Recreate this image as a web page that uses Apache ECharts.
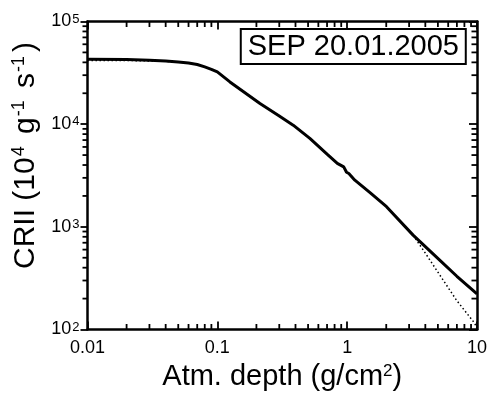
<!DOCTYPE html>
<html>
<head>
<meta charset="utf-8">
<script src="https://cdn.jsdelivr.net/npm/echarts@6/dist/echarts.min.js"></script>
<style>html,body{margin:0;padding:0;background:#fff;}#c{width:490px;height:397px;}</style>
</head>
<body>
<div id="c"></div>
<script>
// Data
const depthSolid = [0.01, 0.02, 0.03, 0.04, 0.05, 0.06, 0.07, 0.08, 0.09, 0.1, 0.125, 0.213, 0.3, 0.384, 0.516, 0.7, 0.84, 0.941, 0.989, 1.03, 1.146, 1.5, 2.01, 3.22, 5.16, 7.0, 10];
const criiSolid  = [43000, 42700, 42000, 41300, 40400, 39400, 38100, 36100, 34200, 32300, 25800, 15900, 12000, 9780, 7260, 5100, 4150, 3840, 3400, 3310, 2850, 2150, 1570, 830, 474, 330, 222];
const depthDotted = [0.01, 0.02, 0.03, 0.04, 0.05, 0.06, 0.07, 0.08, 0.09, 0.1, 0.125, 0.213, 0.3, 0.384, 0.516, 0.7, 0.84, 0.941, 0.989, 1.03, 1.146, 1.5, 2.01, 3.22, 4.0, 4.88, 6.95, 9.6, 10];
const criiDotted  = [41800, 41700, 41300, 40900, 40200, 39400, 38100, 36100, 34200, 32300, 25800, 15900, 12000, 9780, 7260, 5100, 4150, 3840, 3400, 3310, 2850, 2150, 1570, 830, 555, 379, 193, 115, 102];
const xMinorTicks = [0.02,0.03,0.04,0.05,0.06,0.07,0.08,0.09,0.2,0.3,0.4,0.5,0.6,0.7,0.8,0.9,2,3,4,5,6,7,8,9];
const yMinorTicks = [200,300,400,500,600,700,800,900,2000,3000,4000,5000,6000,7000,8000,9000,20000,30000,40000,50000,60000,70000,80000,90000];
const xRange = [0.01, 10];
const yRange = [100, 100000];
const legendText = 'SEP 20.01.2005';

const FONT = '"Liberation Sans", Arial, Helvetica, sans-serif';
const chart = echarts.init(document.getElementById('c'), null, {renderer: 'canvas'});

// minor ticks drawn through the axes' own log scales
function minorTickSeries(vals, axisSide, len) {
  const data = vals.map(v => {
    if (axisSide === 'bottom') return [v, yRange[0]];
    if (axisSide === 'top') return [v, yRange[1]];
    if (axisSide === 'left') return [xRange[0], v];
    return [xRange[1], v];
  });
  return {
    type: 'custom', coordinateSystem: 'cartesian2d', xAxisIndex: 0, yAxisIndex: 0, silent: true, clip: false,
    data: data, z: 10,
    renderItem: function (params, api) {
      const p = api.coord([api.value(0), api.value(1)]);
      const w = 1.8;
      let r;
      if (axisSide === 'bottom') r = {x: p[0] - w / 2, y: p[1] - len, width: w, height: len};
      else if (axisSide === 'top') r = {x: p[0] - w / 2, y: p[1], width: w, height: len};
      else if (axisSide === 'left') r = {x: p[0] - len, y: p[1] - w / 2, width: len, height: w};
      else r = {x: p[0] - len, y: p[1] - w / 2, width: len, height: w};
      return {type: 'rect', shape: r, style: {fill: '#000'}};
    }
  };
}

const axisLineStyle = {show: true, lineStyle: {color: '#000', width: 2.5}};
const tickStyle = {color: '#000', width: 1.8};

chart.setOption({
  animation: false,
  backgroundColor: '#fff',
  title: {
    text: legendText, right: 24, top: 29,
    borderColor: '#000', borderWidth: 2, padding: [3, 7, 3, 7],
    textStyle: {fontSize: 29, fontWeight: 'normal', fontFamily: FONT, color: '#000'}
  },
  grid: {left: 87.5, right: 12.5, top: 21.5, bottom: 67.5},
  xAxis: [{
    type: 'log', logBase: 10, min: xRange[0], max: xRange[1], position: 'bottom',
    name: 'Atm. depth (g/cm{s|2})', nameLocation: 'middle', nameGap: 31,
    nameTextStyle: {fontSize: 29, fontFamily: FONT, color: '#000',
      rich: {s: {fontSize: 17, fontFamily: FONT, color: '#000', verticalAlign: 'top', padding: [0,0,12,0]}}},
    axisLine: axisLineStyle,
    axisTick: {show: true, inside: true, length: 8, lineStyle: tickStyle},
    axisLabel: {fontSize: 18, fontFamily: FONT, color: '#000', margin: 10,
      formatter: v => String(Number(v.toPrecision(3)))},
    splitLine: {show: false}
  }, {
    type: 'log', logBase: 10, min: xRange[0], max: xRange[1], position: 'top',
    axisLine: axisLineStyle,
    axisTick: {show: true, inside: true, length: 8, lineStyle: tickStyle},
    axisLabel: {show: false}, splitLine: {show: false}
  }],
  yAxis: [{
    type: 'log', logBase: 10, min: yRange[0], max: yRange[1], position: 'left',
    name: '{a|CRII (10}{s|4}{a| g}{s|-1}{a| s}{s|-1}{a|)}', nameLocation: 'middle', nameGap: 41, nameRotate: 90,
    nameTextStyle: {fontSize: 30, fontFamily: FONT, color: '#000', padding: [0, 0, 0, 40],
      rich: {a: {fontSize: 30, fontFamily: FONT, color: '#000'},
             s: {fontSize: 18, fontFamily: FONT, color: '#000', verticalAlign: 'top', padding: [0,4,13,1]}}},
    axisLine: axisLineStyle,
    axisTick: {show: true, inside: false, length: 7, lineStyle: tickStyle},
    axisLabel: {fontSize: 18, fontFamily: FONT, color: '#000', margin: 8,
      formatter: v => '{b|10}{s|' + Math.round(Math.log10(v)) + '}',
      rich: {b: {fontSize: 18, fontFamily: FONT, color: '#000'},
             s: {fontSize: 13, fontFamily: FONT, color: '#000', verticalAlign: 'top', lineHeight: 13, padding: [0,0,10,1]}}},
    splitLine: {show: false}
  }, {
    type: 'log', logBase: 10, min: yRange[0], max: yRange[1], position: 'right',
    axisLine: axisLineStyle,
    axisTick: {show: true, inside: true, length: 8, lineStyle: tickStyle},
    axisLabel: {show: false}, splitLine: {show: false}
  }],
  series: [
    {
      type: 'line', name: 'dotted', xAxisIndex: 0, yAxisIndex: 0, showSymbol: false, symbol: 'none',
      data: depthDotted.map((d, i) => [d, criiDotted[i]]),
      lineStyle: {color: '#000', width: 1.5, type: [1.5, 2.5]}, z: 2
    },
    {
      type: 'line', name: 'solid', xAxisIndex: 0, yAxisIndex: 0, showSymbol: false, symbol: 'none',
      data: depthSolid.map((d, i) => [d, criiSolid[i]]),
      lineStyle: {color: '#000', width: 3}, z: 3
    },
    minorTickSeries(xMinorTicks, 'bottom', 5.5),
    minorTickSeries(xMinorTicks, 'top', 5.5),
    minorTickSeries(yMinorTicks, 'left', 5),
    minorTickSeries(yMinorTicks, 'right', 5.5)
  ]
});
</script>
</body>
</html>
